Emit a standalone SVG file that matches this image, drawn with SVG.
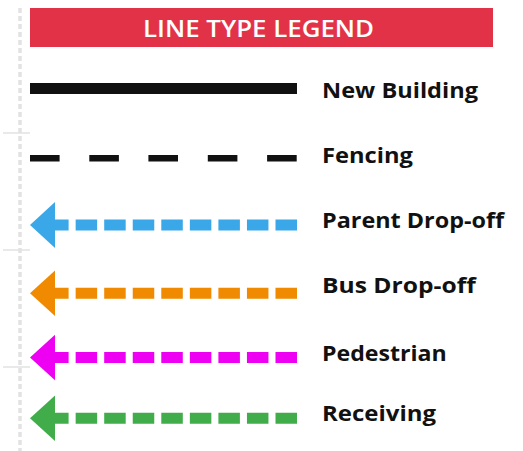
<svg xmlns="http://www.w3.org/2000/svg" width="523" height="451" viewBox="0 0 523 451">
  <style>
    .label { font-family: "Open Sans", "Liberation Sans", sans-serif; font-weight: 700; font-size: 21.5px; fill: #111111; }
    .title { font-family: "Open Sans", "Liberation Sans", sans-serif; font-weight: 600; font-size: 23px; fill: #ffffff; }
    .guide { stroke: #e2e2e2; fill: none; }
    .route { fill: none; stroke-width: 11; stroke-dasharray: 21.5 7.05; }
  </style>
  <rect width="523" height="451" fill="#ffffff"/>

  <!-- faint page guide on the left edge -->
  <g id="guide">
    <line class="guide" x1="20" y1="8" x2="20" y2="451" stroke-width="3.5" stroke-dasharray="5 3"/>
    <line class="guide" x1="3" y1="133" x2="30" y2="133" stroke-width="1.5"/>
    <line class="guide" x1="3" y1="250" x2="30" y2="250" stroke-width="1.5"/>
    <line class="guide" x1="3" y1="367" x2="30" y2="367" stroke-width="1.5"/>
  </g>

  <!-- header banner -->
  <g id="header">
    <rect x="30" y="8" width="463" height="39" fill="#e23248"/>
    <text class="title" x="143" y="36.5" textLength="231" lengthAdjust="spacingAndGlyphs">LINE TYPE LEGEND</text>
  </g>

  <g id="connectors">
    <!-- solid: new building -->
    <rect id="line-building" x="30" y="83" width="267" height="11" fill="#111111"/>
    <!-- long dashes: fencing -->
    <g id="line-fencing" fill="#111111">
      <rect x="30" y="155" width="29.6" height="6.5"/>
      <rect x="89.3" y="155" width="29.6" height="6.5"/>
      <rect x="148.4" y="155" width="29.6" height="6.5"/>
      <rect x="207.8" y="155" width="29.6" height="6.5"/>
      <rect x="267.1" y="155" width="29.6" height="6.5"/>
    </g>
    <!-- dashed arrows pointing left -->
    <g id="line-parent">
      <path class="route" stroke="#3aa8e8" d="M297 225H48"/>
      <polygon fill="#3aa8e8" points="30,225 55,202 55,248"/>
    </g>
    <g id="line-bus">
      <path class="route" stroke="#f08a00" d="M297 293.3H48"/>
      <polygon fill="#f08a00" points="30,293.3 55,270.5 55,316"/>
    </g>
    <g id="line-pedestrian">
      <path class="route" stroke="#ee00f2" d="M297 357.5H48"/>
      <polygon fill="#ee00f2" points="30,357.5 55,334.8 55,380.2"/>
    </g>
    <g id="line-receiving">
      <path class="route" stroke="#41ad4a" d="M297 418.3H48"/>
      <polygon fill="#41ad4a" points="30,418.3 55,395.6 55,441"/>
    </g>
  </g>

  <!-- labels -->
  <g id="labels">
    <text id="lbl-building" class="label" x="322" y="97.5" textLength="156" lengthAdjust="spacingAndGlyphs">New Building</text>
    <text id="lbl-fencing" class="label" x="322" y="163.3" textLength="91" lengthAdjust="spacingAndGlyphs">Fencing</text>
    <text id="lbl-parent" class="label" x="322" y="228.4" textLength="182" lengthAdjust="spacingAndGlyphs">Parent Drop-off</text>
    <text id="lbl-bus" class="label" x="322" y="292.8" textLength="153.7" lengthAdjust="spacingAndGlyphs">Bus Drop-off</text>
    <text id="lbl-pedestrian" class="label" x="322" y="360.6" textLength="124.7" lengthAdjust="spacingAndGlyphs">Pedestrian</text>
    <text id="lbl-receiving" class="label" x="322" y="421" textLength="114" lengthAdjust="spacingAndGlyphs">Receiving</text>
  </g>
</svg>
